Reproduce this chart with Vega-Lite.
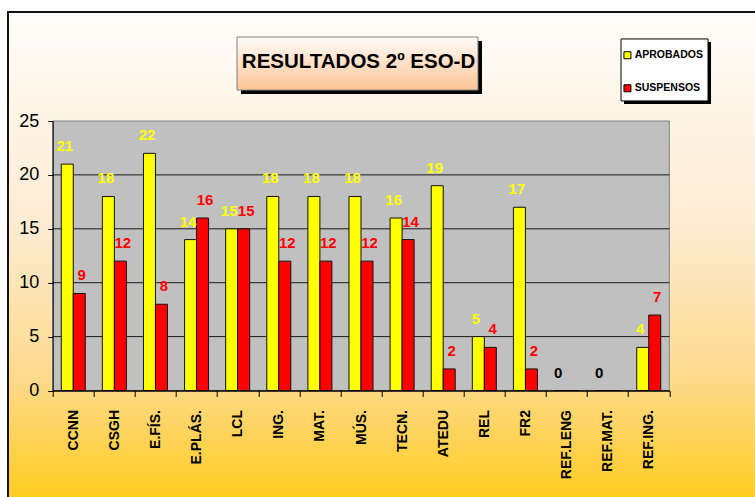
{
  "$schema": "https://vega.github.io/schema/vega-lite/v6.json",
  "width": 616.6,
  "height": 269.5,
  "autosize": "none",
  "padding": {"left": 52.7, "top": 121, "right": 85.7, "bottom": 106.5},
  "background": "white",
  "config": {
    "view": {"stroke": null}
  },
  "resolve": {"scale": {"x": "independent", "xOffset": "independent"}, "axis": {"x": "independent"}},
  "data": {
    "values": [
      {"asignatura": "CCNN", "serie": "APROBADOS", "alumnos": 21},
      {"asignatura": "CCNN", "serie": "SUSPENSOS", "alumnos": 9},
      {"asignatura": "CSGH", "serie": "APROBADOS", "alumnos": 18},
      {"asignatura": "CSGH", "serie": "SUSPENSOS", "alumnos": 12},
      {"asignatura": "E.FÍS.", "serie": "APROBADOS", "alumnos": 22},
      {"asignatura": "E.FÍS.", "serie": "SUSPENSOS", "alumnos": 8},
      {"asignatura": "E.PLÁS.", "serie": "APROBADOS", "alumnos": 14},
      {"asignatura": "E.PLÁS.", "serie": "SUSPENSOS", "alumnos": 16},
      {"asignatura": "LCL", "serie": "APROBADOS", "alumnos": 15},
      {"asignatura": "LCL", "serie": "SUSPENSOS", "alumnos": 15},
      {"asignatura": "ING.", "serie": "APROBADOS", "alumnos": 18},
      {"asignatura": "ING.", "serie": "SUSPENSOS", "alumnos": 12},
      {"asignatura": "MAT.", "serie": "APROBADOS", "alumnos": 18},
      {"asignatura": "MAT.", "serie": "SUSPENSOS", "alumnos": 12},
      {"asignatura": "MÚS.", "serie": "APROBADOS", "alumnos": 18},
      {"asignatura": "MÚS.", "serie": "SUSPENSOS", "alumnos": 12},
      {"asignatura": "TECN.", "serie": "APROBADOS", "alumnos": 16},
      {"asignatura": "TECN.", "serie": "SUSPENSOS", "alumnos": 14},
      {"asignatura": "ATEDU", "serie": "APROBADOS", "alumnos": 19},
      {"asignatura": "ATEDU", "serie": "SUSPENSOS", "alumnos": 2},
      {"asignatura": "REL", "serie": "APROBADOS", "alumnos": 5},
      {"asignatura": "REL", "serie": "SUSPENSOS", "alumnos": 4},
      {"asignatura": "FR2", "serie": "APROBADOS", "alumnos": 17},
      {"asignatura": "FR2", "serie": "SUSPENSOS", "alumnos": 2},
      {"asignatura": "REF.LENG", "serie": "APROBADOS", "alumnos": 0},
      {"asignatura": "REF.LENG", "serie": "SUSPENSOS", "alumnos": 0},
      {"asignatura": "REF.MAT.", "serie": "APROBADOS", "alumnos": 0},
      {"asignatura": "REF.MAT.", "serie": "SUSPENSOS", "alumnos": 0},
      {"asignatura": "REF.ING.", "serie": "APROBADOS", "alumnos": 4},
      {"asignatura": "REF.ING.", "serie": "SUSPENSOS", "alumnos": 7}
    ]
  },
  "layer": [
    {
      "data": {"values": [{"fondo": 1}]},
      "mark": {
        "type": "rect",
        "stroke": "#111111",
        "strokeWidth": 2,
        "fill": {
          "gradient": "linear", "x1": 0, "y1": 0, "x2": 0, "y2": 1,
          "stops": [
            {"offset": 0, "color": "#fffdfa"},
            {"offset": 0.45, "color": "#fdebd0"},
            {"offset": 0.75, "color": "#fdd98a"},
            {"offset": 1, "color": "#ffcc1c"}
          ]
        }
      },
      "encoding": {
        "x": {"datum": -0.0725, "type": "quantitative", "scale": {"domain": [0, 1], "nice": false, "zero": false}, "axis": null},
        "x2": {"datum": 1.2},
        "y": {"datum": -10.5, "type": "quantitative"},
        "y2": {"datum": 35.1}
      }
    },
    {
      "data": {"values": [{"caja": "sombra"}]},
      "mark": {"type": "rect", "fill": "black", "xOffset": 4, "x2Offset": 4, "yOffset": 4, "y2Offset": 4},
      "encoding": {
        "x": {"datum": 0.2989, "type": "quantitative", "scale": {"domain": [0, 1], "nice": false, "zero": false}, "axis": null},
        "x2": {"datum": 0.6897},
        "y": {"datum": 32.79, "type": "quantitative"},
        "y2": {"datum": 27.87}
      }
    },
    {
      "data": {"values": [{"caja": "titulo"}]},
      "mark": {
        "type": "rect",
        "stroke": "#808080",
        "strokeWidth": 1,
        "fill": {
          "gradient": "linear", "x1": 0, "y1": 0, "x2": 0, "y2": 1,
          "stops": [
            {"offset": 0, "color": "#fffbf8"},
            {"offset": 1, "color": "#fcc596"}
          ]
        }
      },
      "encoding": {
        "x": {"datum": 0.2989, "type": "quantitative", "scale": {"domain": [0, 1], "nice": false, "zero": false}, "axis": null},
        "x2": {"datum": 0.6897},
        "y": {"datum": 32.79, "type": "quantitative"},
        "y2": {"datum": 27.87}
      }
    },
    {
      "data": {"values": [{"titulo": "RESULTADOS 2º ESO-D"}]},
      "mark": {"type": "text", "font": "Liberation Sans", "fontWeight": "bold", "fontSize": 20.5, "color": "black", "baseline": "middle", "align": "center"},
      "encoding": {
        "x": {"datum": 0.496, "type": "quantitative", "scale": {"domain": [0, 1], "nice": false, "zero": false}, "axis": null},
        "y": {"datum": 30.45, "type": "quantitative"},
        "text": {"field": "titulo"}
      }
    },
    {
      "data": {"values": [{"caja": "sombra"}]},
      "mark": {"type": "rect", "fill": "black", "xOffset": 3, "x2Offset": 3, "yOffset": 3, "y2Offset": 3},
      "encoding": {
        "x": {"datum": 0.9217, "type": "quantitative", "scale": {"domain": [0, 1], "nice": false, "zero": false}, "axis": null},
        "x2": {"datum": 1.0628},
        "y": {"datum": 32.61, "type": "quantitative"},
        "y2": {"datum": 26.86}
      }
    },
    {
      "data": {"values": [{"caja": "leyenda"}]},
      "mark": {"type": "rect", "fill": "white", "stroke": "black", "strokeWidth": 1},
      "encoding": {
        "x": {"datum": 0.9217, "type": "quantitative", "scale": {"domain": [0, 1], "nice": false, "zero": false}, "axis": null},
        "x2": {"datum": 1.0628},
        "y": {"datum": 32.61, "type": "quantitative"},
        "y2": {"datum": 26.86}
      }
    },
    {
      "data": {"values": [{"zona": 1}]},
      "mark": {"type": "rect", "fill": "#c0c0c0", "stroke": "#808080", "strokeWidth": 1},
      "encoding": {
        "x": {"datum": 0, "type": "quantitative", "scale": {"domain": [0, 1], "nice": false, "zero": false}, "axis": null},
        "x2": {"datum": 1},
        "y": {"datum": 0, "type": "quantitative"},
        "y2": {"datum": 25}
      }
    },
    {
      "data": {"values": [{"g": 5}, {"g": 10}, {"g": 15}, {"g": 20}]},
      "mark": {"type": "rule", "color": "#1a1a1a", "strokeWidth": 1},
      "encoding": {
        "x": {"datum": 0, "type": "quantitative", "scale": {"domain": [0, 1], "nice": false, "zero": false}, "axis": null},
        "x2": {"datum": 1},
        "y": {"field": "g", "type": "quantitative"}
      }
    },
    {
      "mark": {"type": "bar", "stroke": "#111111", "strokeWidth": 1},
      "encoding": {
        "x": {
          "field": "asignatura",
          "type": "nominal",
          "scale": {
            "domain": ["CCNN", "CSGH", "E.FÍS.", "E.PLÁS.", "LCL", "ING.", "MAT.", "MÚS.", "TECN.", "ATEDU", "REL", "FR2", "REF.LENG", "REF.MAT.", "REF.ING."],
            "paddingInner": 0,
            "paddingOuter": 0
          },
          "axis": {
            "title": null,
            "zindex": 2,
            "domainColor": "black",
            "domainWidth": 1.5,
            "grid": false,
            "labelAngle": -90,
            "labelFont": "Liberation Sans",
            "labelFontWeight": "bold",
            "labelFontSize": 14,
            "labelColor": "black",
            "labelPadding": 13,
            "tickBand": "extent",
            "tickSize": 6,
            "tickColor": "black",
            "labelOverlap": false
          }
        },
        "y": {
          "field": "alumnos",
          "type": "quantitative",
          "scale": {"domain": [0, 25], "nice": false},
          "axis": {
            "title": null,
            "zindex": 2,
            "values": [0, 5, 10, 15, 20, 25],
            "grid": false,
            "domainColor": "black",
            "domainWidth": 1,
            "tickColor": "black",
            "tickSize": 5,
            "labelFont": "Liberation Sans",
            "labelFontSize": 18,
            "labelColor": "black",
            "labelPadding": 9
          }
        },
        "xOffset": {
          "field": "serie",
          "type": "nominal",
          "scale": {"domain": ["APROBADOS", "SUSPENSOS"], "paddingInner": 0, "paddingOuter": 0.7125}
        },
        "color": {
          "field": "serie",
          "type": "nominal",
          "scale": {"domain": ["APROBADOS", "SUSPENSOS"], "range": ["#ffff00", "#ff0000"]},
          "legend": {
            "title": null,
            "orient": "none",
            "direction": "vertical",
            "legendX": 569.5,
            "legendY": -71,
            "zindex": 3,
            "symbolType": "square",
            "symbolSize": 49,
            "symbolStrokeColor": "black",
            "symbolStrokeWidth": 1,
            "labelFont": "Liberation Sans",
            "labelFontSize": 10.5,
            "labelFontWeight": "bold",
            "labelColor": "black",
            "labelOffset": 2,
            "rowPadding": 21,
            "padding": 0
          }
        }
      }
    },
    {
      "transform": [{"filter": "datum.alumnos > 0 || datum.serie == 'APROBADOS'"}],
      "mark": {"type": "text", "font": "Liberation Sans", "fontWeight": "bold", "fontSize": 15, "baseline": "alphabetic", "dy": -13},
      "encoding": {
        "x": {
          "field": "asignatura",
          "type": "nominal",
          "scale": {
            "domain": ["CCNN", "CSGH", "E.FÍS.", "E.PLÁS.", "LCL", "ING.", "MAT.", "MÚS.", "TECN.", "ATEDU", "REL", "FR2", "REF.LENG", "REF.MAT.", "REF.ING."],
            "paddingInner": 0,
            "paddingOuter": 0
          },
          "axis": null
        },
        "y": {"field": "alumnos", "type": "quantitative"},
        "xOffset": {
          "field": "serie",
          "type": "nominal",
          "scale": {"domain": ["APROBADOS", "SUSPENSOS"], "paddingInner": 0, "paddingOuter": 0.7125}
        },
        "text": {"field": "alumnos", "type": "quantitative"},
        "color": {
          "condition": {"test": "datum.alumnos == 0", "value": "black"},
          "field": "serie",
          "type": "nominal"
        }
      }
    }
  ]
}
